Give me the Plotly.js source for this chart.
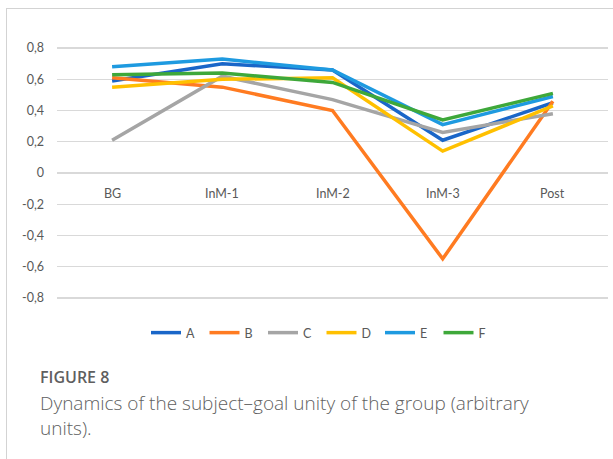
<!DOCTYPE html>
<html>
<head>
<meta charset="utf-8">
<script src="https://cdn.plot.ly/plotly-3.0.1.min.js"></script>
<style>
  html, body { margin: 0; padding: 0; background: #fff; }
  #wrap { position: relative; width: 613px; height: 459px; overflow: hidden; }
  #chart { position: absolute; left: 0; top: 0; width: 613px; height: 459px; }
  #frame { position: absolute; left: 6px; top: 8px; width: 620px; height: 470px;
           border-left: 1.5px solid #d3d3d3; border-top: 1.5px solid #d3d3d3; pointer-events: none; }
</style>
</head>
<body>
<div id="wrap"><div id="chart"></div><div id="frame"></div></div>
<script>
// ---- data ----
const categories = ["BG", "InM-1", "InM-2", "InM-3", "Post"];
const seriesNames = ["A", "B", "C", "D", "E", "F"];
const valuesA = [0.59, 0.70, 0.66, 0.21, 0.45];
const valuesB = [0.61, 0.55, 0.40, -0.55, 0.46];
const valuesC = [0.21, 0.62, 0.47, 0.26, 0.38];
const valuesD = [0.55, 0.60, 0.61, 0.14, 0.43];
const valuesE = [0.68, 0.73, 0.66, 0.31, 0.49];
const valuesF = [0.63, 0.64, 0.58, 0.34, 0.51];
const yTicks = [-0.8, -0.6, -0.4, -0.2, 0, 0.2, 0.4, 0.6, 0.8];
const captionTitle = "FIGURE 8";
const captionLines = ["Dynamics of the subject–goal unity of the group (arbitrary", "units)."];

// ---- styling ----
const seriesValues = [valuesA, valuesB, valuesC, valuesD, valuesE, valuesF];
const colors = ["#1a66c8", "#ff7b21", "#a5a5a5", "#ffc000", "#1e9ae0", "#3ea83a"];
const W = 613, H = 459;
const M = {l: 57, r: 5, t: 45, b: 158};
const pw = W - M.l - M.r, ph = H - M.t - M.b;
const px2x = px => (px - M.l) / pw;
const px2y = py => 1 - (py - M.t) / ph;
const chartFont = "Lato, 'Open Sans', sans-serif";
const capFont = "'Open Sans', 'Noto Sans', sans-serif";

const traces = seriesNames.map((n, i) => ({
  type: "scatter", mode: "lines", name: n,
  x: categories, y: seriesValues[i],
  line: {color: colors[i], width: 3.5},
  hoverinfo: "skip"
}));

const annotations = categories.map(c => ({
  xref: "x", yref: "y", x: c, y: 0, yanchor: "top", yshift: -11,
  text: c, showarrow: false, font: {family: chartFont, size: 12.5, color: "#595959"}
}));
annotations.push({
  xref: "paper", yref: "paper", x: px2x(38), y: px2y(377), xanchor: "left", yanchor: "middle",
  text: captionTitle, showarrow: false,
  font: {family: capFont, size: 16, weight: 600, color: "#5f5f5f"}
});
annotations.push({
  xref: "paper", yref: "paper", x: px2x(38), y: px2y(388), xanchor: "left", yanchor: "top",
  align: "left", text: captionLines.join("<br>"), showarrow: false,
  font: {family: capFont, size: 19, weight: 300, color: "#5f5f5f"}
});

const layout = {
  width: W, height: H,
  margin: M,
  paper_bgcolor: "#fff", plot_bgcolor: "#fff",
  showlegend: true,
  legend: {
    orientation: "h", x: px2x(146), xanchor: "left", y: px2y(318), yanchor: "top",
    font: {family: chartFont, size: 12.5, color: "#595959"},
    itemwidth: 30, entrywidth: 13.5, entrywidthmode: "pixels", bgcolor: "rgba(0,0,0,0)"
  },
  xaxis: {
    type: "category", range: [-0.5, 4.5], showgrid: false, zeroline: false,
    showticklabels: false, showline: false, fixedrange: true
  },
  yaxis: {
    range: [-0.82, 0.82], tickvals: yTicks,
    ticktext: yTicks.map(v => v === 0 ? "0" : v.toFixed(1).replace(".", ",")),
    showgrid: true, gridcolor: "#d9d9d9", gridwidth: 1.3,
    zeroline: false, showline: false, ticks: "",
    ticklabelstandoff: 12,
    tickfont: {family: chartFont, size: 12.5, color: "#595959"}
  },
  annotations: annotations
};

Plotly.newPlot("chart", traces, layout, {displayModeBar: false, staticPlot: true});
</script>
</body>
</html>
